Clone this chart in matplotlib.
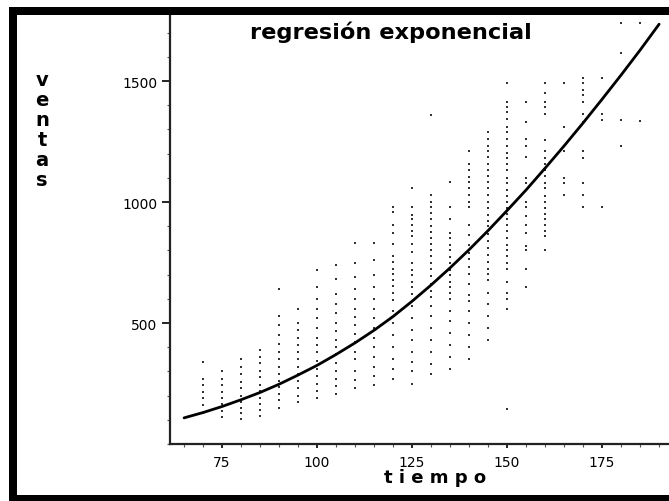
import matplotlib
matplotlib.use("Agg")
import matplotlib.pyplot as plt
from matplotlib.patches import Rectangle
from matplotlib.ticker import MultipleLocator

# ---- data ----
col_x = [70, 75, 80, 85, 90, 95, 100, 105, 110, 115, 120, 125, 130, 135, 140,
         145, 150, 155, 160, 165, 170, 175, 180, 185]
col_y = [
    [130, 160, 190, 215, 245, 270, 340],
    [110, 135, 165, 190, 215, 245, 270, 300],
    [105, 130, 150, 175, 200, 230, 255, 290, 320, 350],
    [115, 140, 165, 190, 220, 245, 275, 300, 335, 360, 390],
    [150, 180, 205, 235, 260, 290, 320, 350, 380, 415, 450, 490, 530, 640],
    [175, 200, 230, 260, 290, 320, 350, 380, 410, 440, 470, 500, 560],
    [190, 220, 250, 280, 310, 345, 380, 410, 440, 480, 520, 560, 600, 650, 720],
    [205, 240, 270, 300, 335, 370, 400, 430, 465, 500, 540, 580, 620, 680, 740],
    [230, 265, 300, 350, 380, 420, 455, 490, 525, 560, 600, 640, 690, 750, 830],
    [245, 280, 320, 360, 400, 440, 480, 520, 560, 600, 650, 700, 760, 830],
    [270, 310, 350, 400, 450, 500, 550, 594, 623, 651, 676, 704, 725, 753, 777,
     828, 873, 904, 957, 978],
    [250, 300, 340, 380, 430, 470, 520, 570, 620, 648, 669, 697, 721, 749, 795,
     828, 859, 880, 904, 929, 946, 978, 1058],
    [290, 330, 380, 430, 480, 530, 570, 606, 634, 662, 693, 725, 749, 777, 803,
     828, 852, 876, 901, 929, 954, 978, 1002, 1030, 1358],
    [310, 360, 410, 460, 510, 550, 599, 623, 648, 669, 697, 721, 749, 774, 803,
     824, 852, 873, 929, 978, 1081],
    [350, 400, 450, 500, 550, 590, 617, 662, 704, 732, 763, 791, 824, 862, 904,
     978, 1002, 1030, 1058, 1081, 1105, 1133, 1157, 1210],
    [430, 480, 530, 580, 623, 676, 701, 725, 753, 781, 809, 838, 866, 901, 922,
     946, 974, 1002, 1030, 1056, 1081, 1109, 1133, 1157, 1185, 1210, 1231, 1259,
     1288],
    [145, 560, 600, 623, 669, 725, 749, 777, 803, 824, 852, 880, 904, 929, 950,
     974, 999, 1025, 1049, 1077, 1101, 1133, 1157, 1182, 1203, 1231, 1259, 1288,
     1311, 1344, 1372, 1393, 1414, 1491],
    [648, 725, 803, 817, 873, 904, 943, 978, 1002, 1077, 1101, 1185, 1231, 1259,
     1330, 1414],
    [803, 859, 880, 904, 929, 950, 974, 999, 1025, 1056, 1077, 1109, 1133, 1157,
     1182, 1210, 1255, 1365, 1393, 1414, 1449, 1491],
    [1028, 1077, 1101, 1210, 1309, 1491],
    [978, 1028, 1077, 1182, 1210, 1330, 1365, 1414, 1442, 1463, 1491, 1512],
    [978, 1337, 1365, 1512],
    [1231, 1337, 1616, 1740],
    [1334, 1740],
]

curve_x = [65, 70, 75, 80, 85, 90, 95, 100, 105, 110, 115, 120, 125, 130, 135,
           140, 145, 150, 155, 160, 165, 170, 175, 180, 185, 190]
curve_y = [108, 130, 155, 183, 213, 247, 285, 325, 370, 418, 470, 527, 590, 657,
           728, 803, 882, 965, 1050, 1140, 1232, 1327, 1425, 1525, 1628, 1735]

title = "regresión exponencial"
xlabel = "tiempo"
ylabel = "ventas"
xticks = [75, 100, 125, 150, 175]
yticks = [500, 1000, 1500]

# ---- figure ----
W, H = 669, 502
fig = plt.figure(figsize=(W / 100, H / 100), dpi=100)
fig.patch.set_facecolor("white")

ax = fig.add_axes([170 / W, (H - 445) / H, (W - 170) / W, (445 - 16) / H])
ax.set_xlim(61.3, 192.6)
ax.set_ylim(0, 1773)

for xv, ys in zip(col_x, col_y):
    ax.scatter([xv] * len(ys), ys, s=1.6, marker="s", color="#333333",
               linewidths=0, zorder=2)

ax.plot(curve_x, curve_y, color="black", lw=2.0, zorder=3,
        solid_capstyle="round", solid_joinstyle="round")

for s in ["top", "right"]:
    ax.spines[s].set_visible(False)
for s in ["left", "bottom"]:
    ax.spines[s].set_linewidth(1.6)
    ax.spines[s].set_color("#222222")

ax.set_xticks(xticks)
ax.set_xticklabels([str(t) for t in xticks])
ax.set_yticks(yticks)
ax.set_yticklabels([str(t) for t in yticks])
ax.xaxis.set_minor_locator(MultipleLocator(5))
ax.yaxis.set_minor_locator(MultipleLocator(100))
ax.tick_params(axis="y", which="major", direction="out", length=6, width=1.2,
               pad=3, labelsize=10)
ax.tick_params(axis="x", which="major", direction="out", length=3, width=1.2,
               pad=5, labelsize=10)
ax.tick_params(which="minor", direction="out", length=2, width=0.8,
               color="#555555")

ax.text(0.443, 0.988, title, transform=ax.transAxes, ha="center", va="top",
        fontsize=16.2, fontweight="bold", family="DejaVu Sans")

fig.text(435 / W, (H - 478) / H, " ".join(xlabel), ha="center", va="center",
         fontsize=13, fontweight="bold", family="DejaVu Sans")

for i, ch in enumerate(ylabel):
    fig.text(42 / W, (H - (81 + 20 * i)) / H, ch, ha="center", va="center",
             fontsize=14, fontweight="bold", family="DejaVu Sans")

# ---- black frame ----
fig.add_artist(Rectangle((9 / W, 0), 8 / W, (H - 8) / H,
                         transform=fig.transFigure, color="black", lw=0))
fig.add_artist(Rectangle((9 / W, (H - 16) / H), (W - 9) / W, 8 / H,
                         transform=fig.transFigure, color="black", lw=0))
fig.add_artist(Rectangle((9 / W, 0), (W - 9) / W, 6 / H,
                         transform=fig.transFigure, color="black", lw=0))

fig.savefig("out.png", dpi=100)
